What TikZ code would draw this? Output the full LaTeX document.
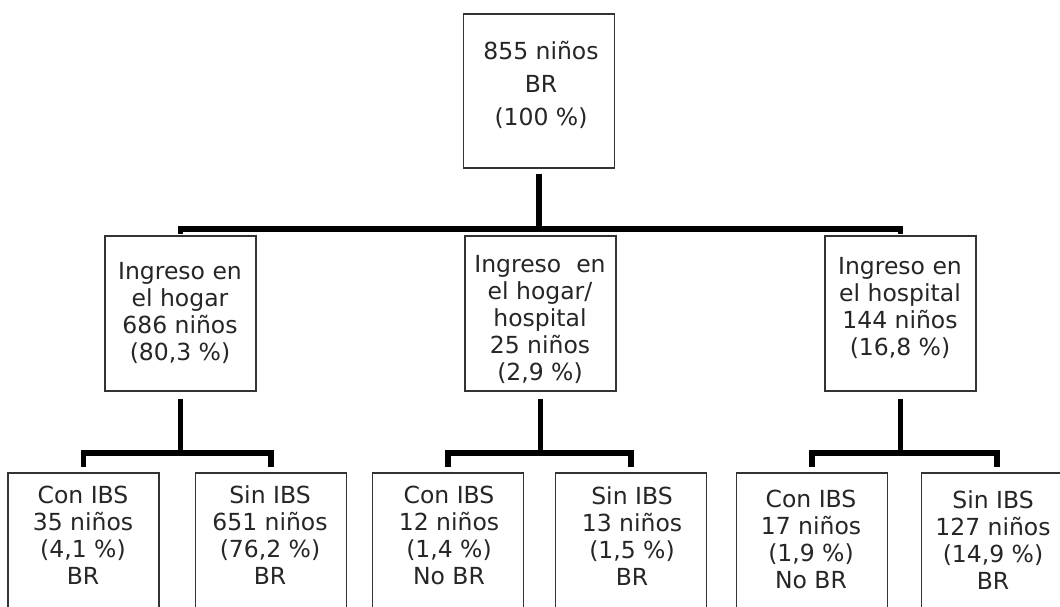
\documentclass[tikz,border=0pt]{standalone}
\usepackage{fontspec}
\setmainfont{DejaVu Sans}
\usepackage{tikz}

\begin{document}
\begin{tikzpicture}[x=1pt, y=-1pt]
		\tikzstyle{box}=[draw=black!80, line width=1.6pt, rectangle, inner sep=0pt, minimum width=151pt]
		\tikzstyle{txt}=[align=center, inner sep=0pt, text=black!85, font=\fontsize{23.5}{27}\selectfont]
		\tikzstyle{bar}=[line width=5.5pt, line join=miter]
		\path[use as bounding box, clip] (0,0) rectangle (1060,606);
		\fill[white] (0,0) rectangle (1060,606);
		% top
		\node[box, minimum height=154pt] (br) at (539,91) {};
		\node[txt, font=\fontsize{23.5}{33}\selectfont] (br-t) at (541,84.5) {855 niños\\BR\\(100 \%)};
		% ingreso
		\node[box, minimum height=155pt] (hogar) at (180.5,313.5) {};
		\node[box, minimum height=155pt] (mixto) at (540.5,313.5) {};
		\node[box, minimum height=155pt] (hosp) at (900.5,313.5) {};
		\node[txt] (hogar-t) at (180,312.5) {Ingreso en\\el hogar\\686 niños\\(80,3 \%)};
		\node[txt] (mixto-t) at (540,319) {Ingreso\ \ en\\el hogar/\\hospital\\25 niños\\(2,9 \%)};
		\node[txt] (hosp-t) at (900,308) {Ingreso en\\el hospital\\144 niños\\(16,8 \%)};
		% IBS
		\node[box, minimum height=200pt, anchor=north] (conHogar) at (83.5,472) {};
		\node[box, minimum height=200pt, anchor=north] (sinHogar) at (271,472) {};
		\node[box, minimum height=200pt, anchor=north] (conMixto) at (448,472) {};
		\node[box, minimum height=200pt, anchor=north] (sinMixto) at (631,472) {};
		\node[box, minimum height=200pt, anchor=north] (conHosp) at (812,472) {};
		\node[box, minimum height=200pt, anchor=north] (sinHosp) at (997,472) {};
		\node[txt] (conHogar-t) at (83,535) {Con IBS\\35 niños\\(4,1 \%)\\BR};
		\node[txt] (sinHogar-t) at (270,535) {Sin IBS\\651 niños\\(76,2 \%)\\BR};
		\node[txt] (conMixto-t) at (449,535) {Con IBS\\12 niños\\(1,4 \%)\\No BR};
		\node[txt] (sinMixto-t) at (632,536) {Sin IBS\\13 niños\\(1,5 \%)\\BR};
		\node[txt] (conHosp-t) at (811,539) {Con IBS\\17 niños\\(1,9 \%)\\No BR};
		\node[txt] (sinHosp-t) at (993,540) {Sin IBS\\127 niños\\(14,9 \%)\\BR};
		% connectors
		\coordinate (lvl1) at (0,229);
		\coordinate (lvl2) at (0,453);
		\draw[bar] ([yshift=-5pt]br.south) -- (br.south |- lvl1)
		           ([yshift=1pt]hogar.north) -- (hogar.north |- lvl1) -- (hosp.north |- lvl1) -- ([yshift=1pt]hosp.north)
		           ([yshift=-7pt]hogar.south) -- (hogar.south |- lvl2)
		           ([yshift=-7pt]mixto.south) -- (mixto.south |- lvl2)
		           ([yshift=-7pt]hosp.south) -- (hosp.south |- lvl2)
		           ([yshift=5pt]conHogar.north) -- (conHogar.north |- lvl2) -- (sinHogar.north |- lvl2) -- ([yshift=5pt]sinHogar.north)
		           ([yshift=5pt]conMixto.north) -- (conMixto.north |- lvl2) -- (sinMixto.north |- lvl2) -- ([yshift=5pt]sinMixto.north)
		           ([yshift=5pt]conHosp.north) -- (conHosp.north |- lvl2) -- (sinHosp.north |- lvl2) -- ([yshift=5pt]sinHosp.north);
	\end{tikzpicture}
\end{document}
